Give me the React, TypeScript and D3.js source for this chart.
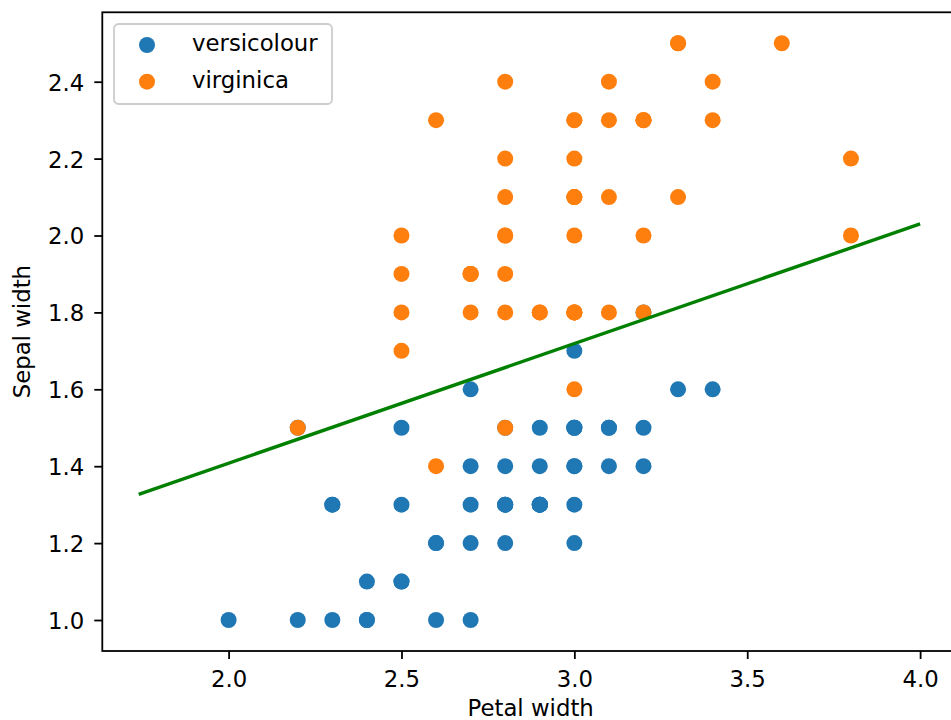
import React, { useEffect, useRef } from 'react';
import * as d3 from 'd3';

// sepal width (x axis) / petal width (y axis) readings
const versicolourX = [3.2, 3.2, 3.1, 2.3, 2.8, 2.8, 3.3, 2.4, 2.9, 2.7, 2.0, 3.0, 2.2, 2.9, 2.9, 3.1, 3.0, 2.7, 2.2, 2.5,
  3.2, 2.8, 2.5, 2.8, 2.9, 3.0, 2.8, 3.0, 2.9, 2.6, 2.4, 2.4, 2.7, 2.7, 3.0, 3.4, 3.1, 2.3, 3.0, 2.5,
  2.6, 3.0, 2.6, 2.3, 2.7, 3.0, 2.9, 2.9, 2.5, 2.8];
const versicolourY = [1.4, 1.5, 1.5, 1.3, 1.5, 1.3, 1.6, 1.0, 1.3, 1.4, 1.0, 1.5, 1.0, 1.4, 1.3, 1.4, 1.5, 1.0, 1.5, 1.1,
  1.8, 1.3, 1.5, 1.2, 1.3, 1.4, 1.4, 1.7, 1.5, 1.0, 1.1, 1.0, 1.2, 1.6, 1.5, 1.6, 1.5, 1.3, 1.3, 1.3,
  1.2, 1.4, 1.2, 1.0, 1.3, 1.2, 1.3, 1.3, 1.1, 1.3];
const virginicaX = [3.3, 2.7, 3.0, 2.9, 3.0, 3.0, 2.5, 2.9, 2.5, 3.6, 3.2, 2.7, 3.0, 2.5, 2.8, 3.2, 3.0, 3.8, 2.6, 2.2,
  3.2, 2.8, 2.8, 2.7, 3.3, 3.2, 2.8, 3.0, 2.8, 3.0, 2.8, 3.8, 2.8, 2.8, 2.6, 3.0, 3.4, 3.1, 3.0, 3.1,
  3.1, 3.1, 2.7, 3.2, 3.3, 3.0, 2.5, 3.0, 3.4, 3.0];
const virginicaY = [2.5, 1.9, 2.1, 1.8, 2.2, 2.1, 1.7, 1.8, 1.8, 2.5, 2.0, 1.9, 2.1, 2.0, 2.4, 2.3, 1.8, 2.2, 2.3, 1.5,
  2.3, 2.0, 2.0, 1.8, 2.1, 1.8, 1.8, 1.8, 2.1, 1.6, 1.9, 2.0, 2.2, 1.5, 1.4, 2.3, 2.4, 1.8, 1.8, 2.1,
  2.4, 2.3, 1.9, 2.3, 2.5, 2.3, 1.9, 2.0, 2.3, 1.8];

// fitted boundary line end points
const lineX = [1.74, 4.0];
const lineY = [1.327, 2.03];

const xTicks = [2.0, 2.5, 3.0, 3.5, 4.0];
const yTicks = [1.0, 1.2, 1.4, 1.6, 1.8, 2.0, 2.2, 2.4];
const seriesNames = ['versicolour', 'virginica'];
const seriesColors = ['#1f77b4', '#ff7f0e'];

const W = 951;
const H = 720;
const FONT = 'DejaVu Sans, sans-serif';
const FS = 22.8;

const App = () => {
  const svgRef = useRef<SVGSVGElement>(null);

  useEffect(() => {
    const svg = d3.select(svgRef.current);
    svg.selectAll('*').remove();

    const left = 102.3, right = 959, top = 12.3, bottom = 651;

    const x = d3.scaleLinear().domain([1.6347, 4.1125]).range([left, right]);
    const y = d3.scaleLinear().domain([0.9194, 2.5805]).range([bottom, top]);

    svg.append('rect').attr('width', W).attr('height', H).attr('fill', '#fff');

    svg.append('clipPath').attr('id', 'plot-clip')
      .append('rect')
      .attr('x', left).attr('y', top)
      .attr('width', right - left).attr('height', bottom - top);

    const plot = svg.append('g').attr('clip-path', 'url(#plot-clip)');

    const series = [
      { xs: versicolourX, ys: versicolourY },
      { xs: virginicaX, ys: virginicaY },
    ];
    series.forEach((s, i) => {
      plot.append('g')
        .attr('fill', seriesColors[i])
        .selectAll('circle')
        .data(s.xs.map((v, k) => [v, s.ys[k]]))
        .enter()
        .append('circle')
        .attr('cx', d => x(d[0]))
        .attr('cy', d => y(d[1]))
        .attr('r', 8);
    });

    const line = d3.line<number>()
      .x(d => x(lineX[d]))
      .y(d => y(lineY[d]));
    plot.append('path')
      .datum(d3.range(lineX.length))
      .attr('d', line)
      .attr('fill', 'none')
      .attr('stroke', '#008000')
      .attr('stroke-width', 3.4);

    // x axis
    const xAxis = svg.append('g')
      .attr('transform', `translate(0,${bottom})`)
      .call(d3.axisBottom(x).tickValues(xTicks).tickFormat(d3.format('.1f')).tickSize(8).tickPadding(8));
    xAxis.select('.domain').remove();

    const yAxis = svg.append('g')
      .attr('transform', `translate(${left},0)`)
      .call(d3.axisLeft(y).tickValues(yTicks).tickFormat(d3.format('.1f')).tickSize(8).tickPadding(10));
    yAxis.select('.domain').remove();

    [xAxis, yAxis].forEach(a => {
      a.selectAll('line').attr('stroke', '#000').attr('stroke-width', 1.8);
      a.selectAll('text')
        .attr('fill', '#000')
        .style('font-family', FONT)
        .style('font-size', `${FS}px`);
    });
    xAxis.selectAll('text').attr('dy', '0.88em');
    yAxis.selectAll('text').attr('dy', '0.37em');

    // spines
    svg.append('rect')
      .attr('x', left).attr('y', top)
      .attr('width', right - left).attr('height', bottom - top)
      .attr('fill', 'none')
      .attr('stroke', '#000')
      .attr('stroke-width', 1.8);

    // axis labels
    svg.append('text')
      .attr('x', (left + right) / 2)
      .attr('y', 716)
      .attr('text-anchor', 'middle')
      .style('font-family', FONT)
      .style('font-size', `${FS}px`)
      .text('Petal width');

    svg.append('text')
      .attr('transform', `translate(29.5,${(top + bottom) / 2}) rotate(-90)`)
      .attr('text-anchor', 'middle')
      .style('font-family', FONT)
      .style('font-size', `${FS}px`)
      .text('Sepal width');

    // legend
    const lg = svg.append('g').attr('transform', 'translate(114,24)');
    lg.append('rect')
      .attr('width', 218).attr('height', 80)
      .attr('rx', 4.6)
      .attr('fill', '#fff').attr('fill-opacity', 0.8)
      .attr('stroke', '#cccccc').attr('stroke-width', 1.8);
    seriesNames.forEach((name, i) => {
      const cy = 21 + i * 36.7;
      lg.append('circle')
        .attr('cx', 33).attr('cy', cy).attr('r', 8)
        .attr('fill', seriesColors[i]);
      lg.append('text')
        .attr('x', 78).attr('y', cy + 6)
        .style('font-family', FONT)
        .style('font-size', `${FS}px`)
        .text(name);
    });
  }, []);

  return (
    <svg ref={svgRef} width={W} height={H}
      style={{ position: 'absolute', left: 0, top: 0, display: 'block' }} />
  );
};

export default App;
